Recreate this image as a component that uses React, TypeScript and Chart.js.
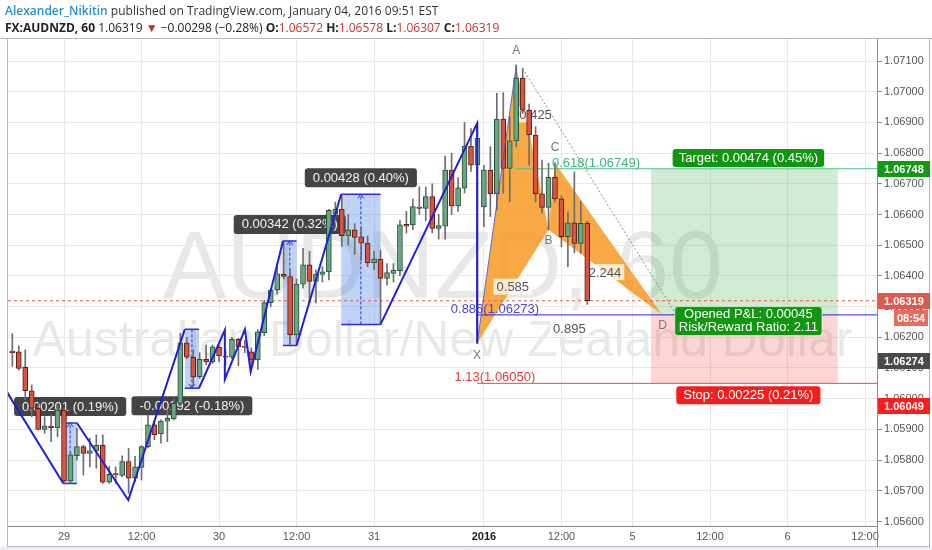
import React, { useEffect, useRef } from 'react';
import { Chart, registerables } from 'chart.js';

Chart.register(...registerables);

// ---------------- data ----------------
const OPEN = [
  1.06155, 1.06153, 1.06102, 1.06026, 1.05969, 1.059, 1.05911, 1.05906, 1.05963, 1.05732,
  1.05814, 1.05844, 1.05822, 1.0583, 1.05848, 1.05728, 1.05756, 1.0575, 1.05795, 1.05741,
  1.05776, 1.05844, 1.05915, 1.05885, 1.05927, 1.05934, 1.05985, 1.06182, 1.06135, 1.06072,
  1.06128, 1.0612, 1.06167, 1.06139, 1.06135, 1.06193, 1.0617, 1.06153, 1.06126, 1.06215,
  1.06313, 1.06354, 1.06405, 1.06398, 1.06208, 1.06373, 1.06436, 1.06382, 1.06405, 1.06413,
  1.066, 1.06618, 1.0653, 1.0655, 1.06527, 1.06507, 1.06443, 1.06455, 1.06392, 1.06408,
  1.06417, 1.06568, 1.06566, 1.06624, 1.0662, 1.06658, 1.06555, 1.06562, 1.06745, 1.06628,
  1.06686, 1.06823, 1.06761, 1.06625, 1.06745, 1.06667, 1.06911, 1.0675, 1.0684, 1.07044,
  1.0694, 1.06859, 1.06667, 1.06623, 1.06721, 1.06651, 1.06528, 1.06573, 1.06506, 1.06572,
];
const HIGH = [
  1.06212, 1.06172, 1.06159, 1.06045, 1.05984, 1.05941, 1.05947, 1.0598, 1.05969, 1.05827,
  1.05904, 1.05849, 1.05871, 1.05882, 1.05882, 1.0578, 1.05778, 1.05814, 1.05838, 1.05812,
  1.05847, 1.05947, 1.05925, 1.05931, 1.05963, 1.05999, 1.06213, 1.062, 1.06159, 1.0615,
  1.06175, 1.06175, 1.06175, 1.0616, 1.062, 1.06197, 1.0619, 1.06165, 1.06225, 1.0632,
  1.0636, 1.0644, 1.06514, 1.0642, 1.0639, 1.0649, 1.0648, 1.0642, 1.0643, 1.06617,
  1.0664, 1.06666, 1.066, 1.0657, 1.0656, 1.0653, 1.0648, 1.06484, 1.0644, 1.0644,
  1.0658, 1.0661, 1.0665, 1.0669, 1.0669, 1.067, 1.066, 1.0679, 1.068, 1.0672,
  1.069, 1.0688, 1.06897, 1.0676, 1.06821, 1.06995, 1.06997, 1.06919, 1.07087, 1.07076,
  1.0696, 1.06886, 1.06777, 1.06767, 1.06768, 1.0666, 1.06609, 1.06739, 1.06642, 1.06578,
];
const LOW = [
  1.06105, 1.06093, 1.05996, 1.05941, 1.05898, 1.05887, 1.0586, 1.05876, 1.05724, 1.05724,
  1.058, 1.05751, 1.05778, 1.05774, 1.05724, 1.05724, 1.05724, 1.05745, 1.05692, 1.0573,
  1.05735, 1.0584, 1.05866, 1.05855, 1.0586, 1.05931, 1.0598, 1.0613, 1.06039, 1.06065,
  1.0611, 1.06115, 1.0612, 1.0611, 1.0613, 1.06107, 1.0615, 1.06108, 1.06095, 1.06205,
  1.063, 1.0634, 1.0639, 1.0618, 1.06173, 1.0636, 1.06312, 1.06312, 1.0638, 1.06387,
  1.0658, 1.06496, 1.065, 1.0647, 1.0645, 1.0643, 1.0642, 1.06242, 1.0637, 1.0638,
  1.064, 1.0654, 1.0655, 1.066, 1.0658, 1.0654, 1.0652, 1.0652, 1.066, 1.0661,
  1.0667, 1.0674, 1.0618, 1.0656, 1.06593, 1.06615, 1.06669, 1.06642, 1.06821, 1.0693,
  1.06761, 1.0664, 1.06604, 1.0655, 1.0664, 1.06495, 1.0643, 1.06475, 1.06474, 1.06307,
];
const CLOSE = [
  1.0615, 1.06099, 1.06026, 1.05969, 1.059, 1.05911, 1.05906, 1.05963, 1.05732, 1.05817,
  1.05844, 1.05822, 1.0583, 1.05848, 1.05728, 1.05754, 1.05752, 1.05795, 1.05741, 1.05778,
  1.05844, 1.05915, 1.05882, 1.05927, 1.05936, 1.05985, 1.06182, 1.06135, 1.0607, 1.06128,
  1.0612, 1.06169, 1.06139, 1.06135, 1.06193, 1.06169, 1.06167, 1.06126, 1.06218, 1.06313,
  1.06354, 1.06407, 1.06398, 1.06208, 1.06373, 1.06436, 1.06382, 1.06405, 1.06413, 1.06614,
  1.06618, 1.06531, 1.0655, 1.06525, 1.06507, 1.06443, 1.06455, 1.06392, 1.06411, 1.06419,
  1.06566, 1.06562, 1.06626, 1.0662, 1.06658, 1.06555, 1.06564, 1.06745, 1.06628, 1.06687,
  1.06823, 1.06761, 1.06848, 1.06745, 1.06667, 1.06911, 1.0675, 1.0684, 1.07044, 1.0694,
  1.06859, 1.06667, 1.06623, 1.06721, 1.06651, 1.06528, 1.06573, 1.06506, 1.06571, 1.06319,
];

const X_MIN = -0.67;
const X_MAX = 133.85;
const Y_MIN = 1.055853;
const Y_MAX = 1.071717;
const Y_TICKS = [1.056, 1.057, 1.058, 1.059, 1.06, 1.061, 1.062, 1.063, 1.064, 1.065, 1.066, 1.067, 1.068, 1.069, 1.07, 1.071];
const X_TICK_POS = [8, 20, 32, 44, 56, 73, 85, 96, 108, 120, 132];
const X_TICK_LABELS = ['29', '12:00', '30', '12:00', '31', '2016', '12:00', '5', '12:00', '6', '12:00'];

const LAST_PRICE = 1.06319;

// zigzag path drawn by the author (bar index, price)
const ZIGZAG: number[][][] = [
  [[-0.87, 1.06023], [7.9, 1.05724]],
  [[10.0, 1.05921], [17.95, 1.0567], [26.7, 1.06226]],
  [[28.9, 1.06034], [32.9, 1.06224], [32.9, 1.06063], [36.0, 1.06226], [36.9, 1.06088], [41.9, 1.06514]],
  [[44.0, 1.06173], [50.9, 1.06666]],
  [[57.0, 1.06242], [71.95, 1.06897], [71.95, 1.0618]],
];

// price range measurement boxes
const BOXES = [
  { x0: 7.9, x1: 10.0, lo: 1.05724, hi: 1.05921, up: true, text: '0.00201 (0.19%)' },
  { x0: 26.7, x1: 28.9, lo: 1.06034, hi: 1.06226, up: false, text: '-0.00192 (-0.18%)' },
  { x0: 41.9, x1: 44.0, lo: 1.06173, hi: 1.06514, up: true, text: '0.00342 (0.32%)' },
  { x0: 50.9, x1: 57.0, lo: 1.06242, hi: 1.06666, up: true, text: '0.00428 (0.40%)' },
];

// XABCD pattern points
const PATTERN_NAMES = ['X', 'A', 'B', 'C', 'D'];
const PATTERN_IDX = [71.95, 78, 83, 84, 100.5];
const PATTERN_PRICE = [1.0618, 1.07084, 1.0655, 1.06768, 1.06275];
const PATTERN_RATIOS = [
  { a: 1, b: 3, text: '0.425' },
  { a: 0, b: 2, text: '0.585' },
  { a: 2, b: 4, text: '2.244' },
  { a: 0, b: 4, text: '0.895' },
];

// fib levels
const LEVELS = [
  { price: 1.06273, from: 71.95, at: 74.7, text: '0.886(1.06273)', line: '#2626d6', color: '#4848dc' },
  { price: 1.0605, from: 71.95, at: 74.7, text: '1.13(1.06050)', line: '#e34f4f', color: '#e53935' },
  { price: 1.06749, from: 78, at: 90.35, text: '0.618(1.06749)', line: '#4cbf8c', color: '#3db47c' },
];

// trend line
const TREND = [[79, 1.07076], [102.7, 1.06276]];

// long position tool
const POSITION = { from: 98.87, to: 127.77, entry: 1.06274, target: 1.06748, stop: 1.06049 };
const POS_TARGET_TEXT = 'Target: 0.00474 (0.45%)';
const POS_PNL_TEXT = ['Opened P&L: 0.00045', 'Risk/Reward Ratio: 2.11'];
const POS_STOP_TEXT = 'Stop: 0.00225 (0.21%)';

// price axis tags
const TAGS = [
  { price: 1.06748, text: '1.06748', bg: '#0f9a12', dy: 0 },
  { price: 1.06319, text: '1.06319', bg: '#de5a4c', dy: 0 },
  { price: 1.06274, text: '1.06274', bg: '#4a4a4a', dy: 46 },
  { price: 1.06049, text: '1.06049', bg: '#fb1c1c', dy: 22 },
];
const COUNTDOWN = '08:54';

const WM_TITLE = 'AUDNZD, 60';
const WM_SUB = 'Australian Dollar/New Zealand Dollar';

const FONT = '"Liberation Sans", Arial, sans-serif';
const UP = '#6ba583';
const UP_BORDER = '#225437';
const DOWN = '#d75442';
const DOWN_BORDER = '#5b1a13';

// ---------------- helpers ----------------
function rrect(ctx: CanvasRenderingContext2D, x: number, y: number, w: number, h: number, r: number) {
  ctx.beginPath();
  ctx.moveTo(x + r, y);
  ctx.arcTo(x + w, y, x + w, y + h, r);
  ctx.arcTo(x + w, y + h, x, y + h, r);
  ctx.arcTo(x, y + h, x, y, r);
  ctx.arcTo(x, y, x + w, y, r);
  ctx.closePath();
}

function clipArea(chart: any) {
  const a = chart.chartArea;
  chart.ctx.beginPath();
  chart.ctx.rect(a.left, a.top, a.right - a.left, a.bottom - a.top);
  chart.ctx.clip();
}

const overlay = {
  id: 'overlay',
  beforeDraw(chart: any) {
    const { ctx, chartArea: a } = chart;
    ctx.save();
    ctx.fillStyle = '#ffffff';
    ctx.fillRect(0, 0, chart.width, chart.height);
    ctx.fillStyle = '#eceef1';
    ctx.fillRect(0, a.bottom + 21, chart.width, chart.height - a.bottom - 21);
    clipArea(chart);
    ctx.fillStyle = 'rgba(0,0,0,0.09)';
    ctx.textAlign = 'center';
    ctx.textBaseline = 'alphabetic';
    const cx = (a.left + a.right) / 2;
    ctx.font = '96px ' + FONT;
    ctx.fillText(WM_TITLE, cx, a.top + 259);
    ctx.font = '50px ' + FONT;
    ctx.fillText(WM_SUB, cx, a.top + 317);
    ctx.restore();
  },
  beforeDatasetsDraw(chart: any) {
    const { ctx, scales } = chart;
    const X = (v: number) => scales.x.getPixelForValue(v);
    const Y = (v: number) => scales.y.getPixelForValue(v);
    ctx.save();
    clipArea(chart);

    // position zones
    const zl = X(POSITION.from), zr = X(POSITION.to);
    const yT = Y(POSITION.target), yE = Y(POSITION.entry), yS = Y(POSITION.stop);
    ctx.fillStyle = 'rgba(76,175,80,0.26)';
    ctx.fillRect(zl, yT, zr - zl, yE - yT);
    ctx.fillStyle = 'rgba(244,67,54,0.22)';
    ctx.fillRect(zl, yE, zr - zl, yS - yE);

    // XABCD pattern
    const pts = PATTERN_IDX.map((v, i) => [X(v), Y(PATTERN_PRICE[i])]);
    ctx.fillStyle = 'rgba(246,154,36,0.85)';
    [[0, 1, 2], [2, 3, 4]].forEach((tri) => {
      ctx.beginPath();
      tri.forEach((k, j) => (j ? ctx.lineTo(pts[k][0], pts[k][1]) : ctx.moveTo(pts[k][0], pts[k][1])));
      ctx.closePath();
      ctx.fill();
    });

    // measurement boxes
    ctx.font = '13px ' + FONT;
    BOXES.forEach((b) => {
      const x0 = X(b.x0), x1 = X(b.x1), yh = Y(b.hi), yl = Y(b.lo);
      ctx.fillStyle = 'rgba(70,130,230,0.35)';
      ctx.fillRect(x0, yh, x1 - x0, yl - yh);
      ctx.strokeStyle = '#2d2de0';
      ctx.lineWidth = 1.5;
      ctx.setLineDash([]);
      ctx.beginPath();
      ctx.moveTo(x0, yh); ctx.lineTo(x1, yh);
      ctx.moveTo(x0, yl); ctx.lineTo(x1, yl);
      ctx.stroke();
      const cx = (x0 + x1) / 2;
      ctx.lineWidth = 1;
      ctx.setLineDash([3, 2]);
      ctx.beginPath();
      ctx.moveTo(cx, b.up ? yl : yh);
      ctx.lineTo(cx, b.up ? yh : yl);
      ctx.stroke();
      ctx.setLineDash([]);
      const tip = b.up ? yh : yl;
      const d = b.up ? 4 : -4;
      ctx.beginPath();
      ctx.moveTo(cx - 3, tip + d); ctx.lineTo(cx, tip); ctx.lineTo(cx + 3, tip + d);
      ctx.stroke();
      // label
      const w = ctx.measureText(b.text).width + 16;
      const h = 19;
      const ly = b.up ? yh - 7 - h : yl + 8;
      ctx.fillStyle = 'rgba(48,48,48,0.9)';
      rrect(ctx, cx - w / 2, ly, w, h, 3);
      ctx.fill();
      ctx.fillStyle = '#f4f4f4';
      ctx.textAlign = 'center';
      ctx.textBaseline = 'middle';
      ctx.fillText(b.text, cx, ly + h / 2 + 0.5);
    });

    // level labels
    ctx.textAlign = 'center';
    ctx.textBaseline = 'alphabetic';
    LEVELS.forEach((l) => {
      ctx.fillStyle = l.color;
      ctx.fillText(l.text, X(l.at), Y(l.price) - 2);
    });

    // ratio labels
    ctx.textBaseline = 'middle';
    PATTERN_RATIOS.forEach((r) => {
      const mx = (pts[r.a][0] + pts[r.b][0]) / 2;
      const my = (pts[r.a][1] + pts[r.b][1]) / 2;
      const w = ctx.measureText(r.text).width + 6;
      ctx.fillStyle = 'rgba(255,255,255,0.75)';
      ctx.fillRect(mx - w / 2, my - 8, w, 16);
      ctx.fillStyle = '#555555';
      ctx.fillText(r.text, mx, my + 1);
    });

    // letters
    ctx.font = '12px ' + FONT;
    ctx.fillStyle = '#777777';
    const offs = [12, -15, 11, -15, 11];
    PATTERN_NAMES.forEach((n, i) => {
      ctx.fillText(n, pts[i][0] + (i === 4 ? 1 : 0), pts[i][1] + offs[i]);
    });
    ctx.restore();
  },
  afterDraw(chart: any) {
    const { ctx, scales, chartArea: a } = chart;
    const X = (v: number) => scales.x.getPixelForValue(v);
    const Y = (v: number) => scales.y.getPixelForValue(v);
    ctx.save();

    // position labels
    ctx.font = '13px ' + FONT;
    ctx.textAlign = 'center';
    ctx.textBaseline = 'middle';
    const cx = (X(POSITION.from) + X(POSITION.to)) / 2 + 4;
    const yT = Y(POSITION.target), yE = Y(POSITION.entry), yS = Y(POSITION.stop);
    let w = ctx.measureText(POS_TARGET_TEXT).width + 12;
    ctx.fillStyle = '#129612';
    rrect(ctx, cx - w / 2, yT - 20, w, 18, 3);
    ctx.fill();
    ctx.fillStyle = '#ffffff';
    ctx.fillText(POS_TARGET_TEXT, cx, yT - 10.5);

    w = Math.max(...POS_PNL_TEXT.map((t) => ctx.measureText(t).width)) + 8;
    ctx.fillStyle = '#129612';
    rrect(ctx, cx - w / 2, yE - 8, w, 29, 3);
    ctx.fill();
    ctx.strokeStyle = 'rgba(255,255,255,0.6)';
    ctx.lineWidth = 1;
    ctx.stroke();
    ctx.fillStyle = '#ffffff';
    ctx.fillText(POS_PNL_TEXT[0], cx, yE - 0.5);
    ctx.fillText(POS_PNL_TEXT[1], cx, yE + 13);

    w = ctx.measureText(POS_STOP_TEXT).width + 14;
    ctx.fillStyle = '#f51e1e';
    rrect(ctx, cx - w / 2, yS + 2.5, w, 18, 3);
    ctx.fill();
    ctx.fillStyle = '#ffffff';
    ctx.fillText(POS_STOP_TEXT, cx, yS + 12);

    // frame
    ctx.strokeStyle = '#b9b9b9';
    ctx.lineWidth = 1;
    ctx.beginPath();
    ctx.moveTo(0, a.top - 0.5); ctx.lineTo(chart.width, a.top - 0.5);
    ctx.moveTo(a.left - 0.5, a.top); ctx.lineTo(a.left - 0.5, a.bottom + 21);
    ctx.moveTo(a.left - 0.5, a.bottom + 20.5); ctx.lineTo(chart.width - 2, a.bottom + 20.5);
    ctx.moveTo(chart.width - 2.5, a.top); ctx.lineTo(chart.width - 2.5, a.bottom + 21);
    ctx.stroke();
    ctx.strokeStyle = '#8a8a8a';
    ctx.beginPath();
    ctx.moveTo(a.right + 0.5, a.bottom); ctx.lineTo(a.right + 0.5, a.bottom + 21);
    ctx.stroke();

    // price tags
    ctx.font = 'bold 11px ' + FONT;
    ctx.textAlign = 'left';
    ctx.textBaseline = 'middle';
    TAGS.forEach((t) => {
      const ty = Math.round(Y(t.price) + t.dy);
      ctx.fillStyle = t.bg;
      ctx.fillRect(a.right + 1, ty - 8, 52, 16);
      ctx.fillStyle = '#ffffff';
      ctx.fillText(t.text, a.right + 7, ty + 0.5);
    });
    const cy = Math.round(Y(LAST_PRICE)) + 17;
    ctx.fillStyle = '#e56d60';
    ctx.fillRect(a.right + 17, cy - 8, 34, 16);
    ctx.fillStyle = '#ffffff';
    ctx.fillText(COUNTDOWN, a.right + 20, cy + 0.5);
    ctx.restore();
  },
};

function lineData(points: number[][]) {
  return points.map((p) => ({ x: p[0], y: p[1] }));
}

export default function App() {
  const ref = useRef<HTMLCanvasElement>(null);

  useEffect(() => {
    const canvas = ref.current;
    if (!canvas) return;
    const idx = OPEN.map((_, i) => i);
    const isUp = idx.map((i) => CLOSE[i] >= OPEN[i]);

    const zig: any[] = [];
    ZIGZAG.forEach((seg, k) => {
      if (k > 0) zig.push({ x: seg[0][0], y: null });
      seg.forEach((p) => zig.push({ x: p[0], y: p[1] }));
    });

    const datasets: any[] = [
      {
        type: 'bar',
        data: idx.map((i) => ({ x: i, y: [LOW[i], HIGH[i]] })),
        backgroundColor: '#6e6e70',
        barThickness: 1,
        grouped: false,
        order: 3,
      },
      {
        type: 'bar',
        data: idx.map((i) => ({ x: i, y: [OPEN[i], CLOSE[i]] })),
        backgroundColor: idx.map((i) => (isUp[i] ? UP : DOWN)),
        borderColor: idx.map((i) => (isUp[i] ? UP_BORDER : DOWN_BORDER)),
        borderWidth: 1,
        borderSkipped: false,
        barThickness: 5,
        minBarLength: 1,
        grouped: false,
        order: 2,
      },
      ...LEVELS.map((l) => ({
        type: 'line',
        data: lineData([[l.from, l.price], [X_MAX, l.price]]),
        borderColor: l.line,
        borderWidth: 1,
        pointRadius: 0,
        order: 6,
      })),
      {
        type: 'line',
        data: lineData([[X_MIN, LAST_PRICE], [X_MAX, LAST_PRICE]]),
        borderColor: '#df5a4c',
        borderWidth: 1,
        borderDash: [3, 3],
        pointRadius: 0,
        order: 5,
      },
      {
        type: 'line',
        data: lineData(TREND),
        borderColor: '#8c8c8c',
        borderWidth: 1,
        borderDash: [2, 2],
        pointRadius: 0,
        order: 1,
      },
      {
        type: 'line',
        data: lineData([[PATTERN_IDX[0], PATTERN_PRICE[0]], [PATTERN_IDX[1], PATTERN_PRICE[1]]]),
        borderColor: 'rgba(60,70,210,0.75)',
        borderWidth: 1,
        pointRadius: 0,
        order: 1,
      },
      {
        type: 'line',
        data: zig,
        borderColor: '#2020d4',
        borderWidth: 2,
        pointRadius: 0,
        spanGaps: false,
        order: 0,
      },
    ];

    const chart = new Chart(canvas, {
      type: 'bar',
      data: { datasets },
      options: {
        animation: false,
        responsive: false,
        maintainAspectRatio: false,
        devicePixelRatio: 1,
        events: [],
        layout: { padding: { left: 8, top: 39, right: 0, bottom: 4 } },
        plugins: { legend: { display: false }, tooltip: { enabled: false } },
        elements: { line: { tension: 0, fill: false } },
        scales: {
          x: {
            type: 'linear',
            min: X_MIN,
            max: X_MAX,
            offset: false,
            afterBuildTicks: (s: any) => {
              s.ticks = X_TICK_POS.map((v) => ({ value: v }));
            },
            afterFit: (s: any) => {
              s.height = 20;
            },
            grid: { color: '#e8e8e8', drawTicks: false, offset: false },
            border: { display: true, color: '#8a8a8a' },
            ticks: {
              autoSkip: false,
              maxRotation: 0,
              padding: 4,
              color: (c: any) => (c.tick && c.tick.value === 73 ? '#222' : '#555'),
              font: (c: any) => ({
                family: FONT,
                size: 11,
                weight: c.tick && c.tick.value === 73 ? 'bold' : 'normal',
              }),
              callback: (_v: any, i: number) => X_TICK_LABELS[i],
            },
          },
          y: {
            type: 'linear',
            position: 'right',
            min: Y_MIN,
            max: Y_MAX,
            afterBuildTicks: (s: any) => {
              s.ticks = Y_TICKS.map((v) => ({ value: v }));
            },
            afterFit: (s: any) => {
              s.width = 55;
            },
            grid: { color: '#e8e8e8', drawTicks: true, tickLength: 5, tickColor: '#8a8a8a' },
            border: { display: true, color: '#8a8a8a' },
            ticks: {
              autoSkip: false,
              padding: 2,
              color: '#555',
              font: { family: FONT, size: 11 },
              callback: (v: any) => Number(v).toFixed(5),
            },
          },
        },
      } as any,
      plugins: [overlay],
    } as any);
    return () => chart.destroy();
  }, []);

  const base: React.CSSProperties = {
    position: 'absolute',
    left: 5,
    fontFamily: '"Open Sans", Arial, sans-serif',
    fontSize: 12,
    lineHeight: '16px',
    color: '#333',
    whiteSpace: 'nowrap',
  };
  const red = { color: '#cf3030' };

  return (
    <div style={{ position: 'absolute', left: 0, top: 0, width: 932, height: 550, background: '#fff', overflow: 'hidden' }}>
      <canvas ref={ref} width={932} height={550} style={{ position: 'absolute', left: 0, top: 0, width: 932, height: 550 }} />
      <div style={{ ...base, top: 3 }}>
        <span style={{ color: '#2a8fd2', fontWeight: 600 }}>Alexander_Nikitin</span> published on TradingView.com, January 04, 2016 09:51 EST
      </div>
      <div style={{ ...base, top: 20, color: '#222' }}>
        <b>FX:AUDNZD, 60</b> 1.06319 <span style={{ color: '#c62828' }}>▼</span> −0.00298 (−0.28%) <b>O:</b>
        <span style={red}>1.06572</span> <b>H:</b><span style={red}>1.06578</span> <b>L:</b>
        <span style={red}>1.06307</span> <b>C:</b><span style={red}>1.06319</span>
      </div>
    </div>
  );
}
